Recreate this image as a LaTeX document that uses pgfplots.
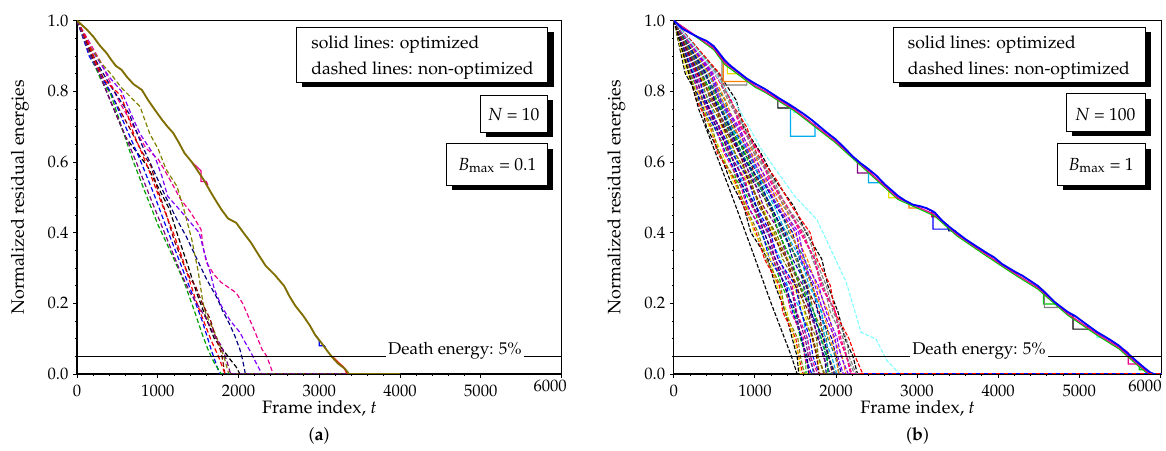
\documentclass[border=0pt]{standalone}
\usepackage[T1]{fontenc}
\usepackage{mathpazo}
\usepackage{pgfplots}
\pgfplotsset{compat=1.18}
\usepackage{pgfplotstable}

\definecolor{ogreen}{RGB}{0,200,0}
\definecolor{oyellow}{RGB}{235,225,0}
\definecolor{dyellow}{RGB}{128,128,0}
\definecolor{onavy}{RGB}{0,0,128}
\definecolor{opurple}{RGB}{128,0,128}
\definecolor{owine}{RGB}{128,0,0}
\definecolor{oolive}{RGB}{128,110,0}
\definecolor{dcyan}{RGB}{0,128,128}
\definecolor{royal}{RGB}{0,0,160}
\definecolor{oorange}{RGB}{255,128,0}
\definecolor{oviolet}{RGB}{128,0,255}
\definecolor{opink}{RGB}{255,0,128}
\definecolor{ogray}{RGB}{128,128,128}
\definecolor{lcyan}{RGB}{128,255,255}

\pgfplotsset{
  energyaxis/.style={
    scale only axis, height=265.7pt, anchor=south west,
    xmin=0, ymin=0, ymax=1,
    xtick={0,1000,...,5000}, extra x ticks={6000},
    ytick={0,0.2,...,1.0},
    minor x tick num=4, minor y tick num=3,
    tick align=outside, xtick pos=bottom, ytick pos=left,
    major tick length=3pt, minor tick length=1.6pt,
    xticklabel style={/pgf/number format/1000 sep={},yshift=-1.5pt},
    yticklabel style={/pgf/number format/.cd,fixed,fixed zerofill,precision=1},
    tick label style={font=\fontsize{12.5}{15}\selectfont},
    xlabel={Frame index, \textit{t}},
    ylabel={Normalized residual energies},
    every axis x label/.style={at={(axis description cs:0.5,-0.099)},anchor=center,
      font=\fontsize{13.5}{16}\selectfont},
    every axis y label/.style={at={(axis description cs:-0.118,0.5)},rotate=90,anchor=center,
      font=\fontsize{13.5}{16}\selectfont},
    axis line style={line width=0.9pt},
    every tick/.style={black,line width=0.7pt},
  },
  ldash/.style={no marks, line width=0.9pt, dash pattern=on 3.5pt off 2pt},
  rdash/.style={no marks, line width=0.85pt, dash pattern=on 3pt off 1.3pt},
  rsolid/.style={no marks, line width=0.9pt},
}

% right panel, non-optimized runs: frame index at fixed energy levels
\pgfplotstableread{
e d1 d2 d3 d4 d5 d6 d7 d8 d9 d10 d11 d12 d13 d14 d15 d16 d17 d18 d19 d20 d21 d22 d23 d24 d25 d26 d27 d28 d29 d30 d31 d32 d33 d34 d35 d36
1 0 0 0 0 0 0 0 0 0 0 0 0 0 0 0 0 0 0 0 0 0 0 0 0 0 0 0 0 0 0 0 0 0 0 0 0
0.85 140 185 200 240 250 280 300 310 345 355 385 400 425 440 470 480 510 520 555 565 330 310 420 220 160 200 230 265 290 330 370 395 430 460 500 540
0.775 330 278 365 310 435 395 503 420 503 448 568 530 630 555 638 580 703 665 768 690 525 375 595 350 355 295 395 353 485 465 570 503 600 560 705 685
0.7 400 450 490 500 540 550 585 610 620 660 670 700 715 750 765 800 815 850 860 895 680 560 690 520 430 470 520 560 600 640 650 690 730 780 830 870
0.625 565 538 670 640 748 675 758 713 830 800 905 828 915 863 988 955 1063 990 1073 1020 880 720 935 620 595 555 700 690 815 755 845 810 950 925 1060 1010
0.55 690 745 770 820 835 880 890 935 960 980 1020 1035 1075 1095 1130 1150 1190 1210 1245 1265 1000 920 1060 800 720 760 800 860 910 950 1000 1050 1090 1110 1170 1230
0.475 860 860 983 915 1013 960 1095 1068 1185 1105 1203 1155 1288 1260 1370 1305 1395 1348 1478 1453 1205 1015 1240 900 895 880 1015 975 1075 1045 1205 1190 1325 1270 1395 1380
0.4 950 1015 1075 1090 1150 1160 1220 1240 1290 1310 1345 1395 1420 1465 1490 1540 1560 1605 1630 1680 1290 1190 1380 1120 990 1040 1110 1170 1200 1260 1330 1370 1440 1510 1580 1650
0.325 1160 1118 1223 1180 1315 1290 1408 1343 1438 1393 1525 1503 1618 1550 1645 1603 1735 1708 1825 1765 1445 1285 1565 1225 1190 1140 1255 1245 1390 1390 1525 1465 1590 1565 1735 1745
0.25 1250 1300 1330 1390 1400 1460 1475 1525 1545 1595 1625 1650 1695 1715 1760 1785 1830 1850 1900 1930 1560 1500 1670 1370 1270 1320 1360 1440 1500 1560 1600 1640 1700 1740 1810 1880
0.175 1375 1343 1485 1465 1580 1515 1608 1563 1700 1673 1793 1725 1818 1773 1905 1880 1995 1930 2025 1985 1730 1570 1825 1445 1395 1365 1505 1510 1665 1620 1725 1685 1850 1845 1995 1965
0.1 1460 1505 1560 1580 1640 1650 1700 1720 1775 1790 1840 1880 1900 1950 1970 2015 2040 2090 2110 2160 1820 1680 1860 1600 1480 1530 1570 1620 1710 1760 1810 1850 1920 1990 2060 2130
0.05 1520 1538 1625 1620 1690 1683 1770 1775 1858 1840 1908 1908 1990 2000 2075 2063 2128 2130 2208 2235 1890 1715 1945 1610 1540 1560 1645 1660 1760 1780 1880 1905 2005 2020 2130 2160
0 1540 1590 1630 1700 1720 1775 1800 1850 1880 1930 1955 1995 2040 2070 2120 2150 2195 2230 2265 2330 1900 1790 2010 1680 1560 1610 1660 1740 1790 1860 1910 1980 2030 2090 2180 2250
0 6100 6100 6100 6100 6100 6100 6100 6100 6100 6100 6100 6100 6100 6100 6100 6100 6100 6100 6100 6100 6100 6100 6100 6100 6100 6100 6100 6100 6100 6100 6100 6100 6100 6100 6100 6100
}\dashR

\begin{document}
\begin{tikzpicture}
\begin{scope}[x=0.75pt,y=0.75pt]
\path[use as bounding box] (0,0) rectangle (1166,452);
\end{scope}

% ---------------- (a) N = 10 ----------------
\begin{axis}[energyaxis, at={(57.98pt,57.75pt)}, width=364.3pt, xmax=6000,
  extra x tick style={tick label style={anchor=north east,xshift=7.5pt,yshift=3.5pt}}]
\addplot[ldash,magenta] coordinates {(0,1)(150,0.94)(300,0.88)(500,0.78)(700,0.70)(850,0.64)(1008,0.607)(1150,0.55)(1283,0.494)(1400,0.46)(1535,0.409)(1560,0.36)(1603,0.315)(1700,0.28)(1786,0.259)(1970,0.23)(2050,0.2)(2153,0.146)(2220,0.11)(2290,0.07)(2350,0.05)(2428,0)(4000,0)};
\addplot[ldash,oviolet] coordinates {(0,1)(200,0.91)(400,0.84)(550,0.8)(680,0.73)(779,0.68)(962,0.616)(1050,0.56)(1122,0.503)(1250,0.47)(1374,0.437)(1512,0.4)(1580,0.34)(1649,0.287)(1700,0.24)(1786,0.193)(1900,0.15)(2016,0.118)(2080,0.09)(2153,0.061)(2220,0.03)(2290,0)(4000,0)};
\addplot[ldash,onavy] coordinates {(0,1)(200,0.9)(400,0.82)(641,0.738)(800,0.65)(962,0.569)(1100,0.5)(1237,0.437)(1350,0.39)(1466,0.334)(1600,0.27)(1741,0.212)(1800,0.18)(1878,0.146)(1950,0.11)(2016,0.07)(2050,0.04)(2084,0)(4000,0)};
\addplot[ldash,black] coordinates {(0,1)(200,0.89)(400,0.78)(600,0.67)(870,0.588)(1000,0.53)(1145,0.466)(1250,0.39)(1374,0.306)(1480,0.23)(1603,0.155)(1700,0.1)(1832,0.061)(1900,0.04)(1970,0.02)(2016,0)(4000,0)};
\addplot[ldash,dyellow] coordinates {(0,1)(150,0.93)(300,0.88)(412,0.851)(550,0.81)(779,0.757)(900,0.68)(1008,0.635)(1100,0.58)(1237,0.531)(1330,0.46)(1420,0.381)(1500,0.29)(1560,0.2)(1603,0.165)(1700,0.12)(1786,0.07)(1830,0.04)(1878,0)(4000,0)};
\addplot[ldash,owine] coordinates {(0,1)(200,0.9)(400,0.8)(641,0.7)(800,0.63)(916,0.588)(1000,0.52)(1099,0.456)(1200,0.38)(1328,0.306)(1400,0.27)(1466,0.249)(1550,0.2)(1649,0.155)(1720,0.1)(1786,0.061)(1832,0)(4000,0)};
\addplot[ldash,red] coordinates {(0,1)(150,0.93)(300,0.84)(550,0.786)(700,0.68)(870,0.588)(1000,0.51)(1191,0.4)(1300,0.33)(1466,0.212)(1550,0.16)(1672,0.089)(1750,0.05)(1832,0)(4000,0)};
\addplot[ldash,blue] coordinates {(0,1)(150,0.9)(300,0.84)(412,0.8)(600,0.7)(779,0.607)(950,0.51)(1099,0.419)(1250,0.33)(1420,0.23)(1550,0.15)(1672,0.061)(1720,0.03)(1764,0)(4000,0)};
\addplot[ldash,ogreen!80!black] coordinates {(0,1)(150,0.91)(300,0.83)(412,0.795)(550,0.7)(687,0.607)(850,0.51)(1008,0.419)(1150,0.35)(1328,0.259)(1450,0.18)(1557,0.108)(1620,0.07)(1695,0.033)(1786,0)(4000,0)};
\addplot[ldash,opurple] coordinates {(0,1)(150,0.91)(275,0.851)(400,0.78)(550,0.7)(750,0.59)(916,0.494)(1100,0.39)(1283,0.287)(1400,0.23)(1603,0.155)(1700,0.11)(1786,0.08)(1850,0.04)(1901,0)(4000,0)};
% optimized runs (nearly identical)
\addplot[rsolid,magenta] coordinates {(1420,0.6)(1535,0.575)(1535,0.545)(1600,0.545)(1620,0.535)};
\addplot[rsolid,blue] coordinates {(2950,0.11)(3000,0.095)(3000,0.08)(3060,0.08)(3080,0.075)};
\addplot[rsolid,red] coordinates {(3161,0.05)(3230,0.034)(3300,0.02)(3345,0)};
\addplot[no marks,line width=1.4pt,oolive] coordinates {(0,1)(120,0.975)(200,0.955)(280,0.93)(366,0.908)(420,0.89)(480,0.872)(550,0.861)(620,0.84)(700,0.82)(802,0.804)(880,0.775)(962,0.748)(1050,0.72)(1120,0.7)(1191,0.682)(1260,0.655)(1328,0.626)(1420,0.6)(1512,0.569)(1580,0.545)(1649,0.517)(1720,0.49)(1786,0.466)(1870,0.44)(1970,0.428)(2060,0.4)(2153,0.372)(2240,0.34)(2336,0.306)(2450,0.28)(2565,0.249)(2630,0.22)(2703,0.193)(2800,0.165)(2886,0.136)(2950,0.11)(3023,0.089)(3100,0.065)(3161,0.047)(3230,0.03)(3321,0.014)(3367,0)(4000,0)};
\addplot[no marks,black,line width=0.9pt] coordinates {(0,0.05)(6100,0.05)};
\node[fill=white,inner sep=1.5pt,anchor=base,font=\fontsize{12.8}{15}\selectfont] at (axis cs:4680,0.05) [yshift=1.5pt] {Death energy: 5\%};
\end{axis}

% ---------------- (b) N = 100 ----------------
\begin{axis}[energyaxis, at={(506.78pt,57.75pt)}, width=366.4pt, xmax=6010,
  extra x tick style={tick label style={anchor=north east,xshift=4.5pt,yshift=3.5pt}},
  cycle list={{black},{red},{ogreen},{blue},{cyan},{magenta},{oyellow},{dyellow},{onavy},
    {opurple},{owine},{oolive},{dcyan},{royal},{oorange},{oviolet},{opink},{ogray}}]
\pgfplotsinvokeforeach{1,...,36}{
  \addplot+[rdash] table[x=d#1,y=e]{\dashR};
}
\addplot[rdash,lcyan] coordinates {(0,1)(445,0.87)(764,0.766)(1082,0.635)(1491,0.503)(1764,0.437)(2127,0.259)(2309,0.118)(2491,0.099)(2627,0.038)(2786,0)};
\addplot[rdash,black] coordinates {(0,1)(309,0.748)(673,0.531)(945,0.362)(1200,0.2)(1450,0.05)(1520,0)};
% optimized runs: the band with waiting steps
\addplot[rsolid,ogray] coordinates {(450,0.935)(594,0.89)(594,0.818)(900,0.818)(900,0.836)};
\addplot[rsolid,oorange] coordinates {(500,0.925)(610,0.886)(610,0.828)(893,0.828)(893,0.838)};
\addplot[rsolid,oyellow] coordinates {(620,0.886)(660,0.878)(660,0.85)(800,0.85)(800,0.856)};
\addplot[rsolid,black] coordinates {(1200,0.795)(1283,0.782)(1283,0.753)(1420,0.753)(1420,0.763)};
\addplot[rsolid,cyan] coordinates {(1300,0.78)(1439,0.762)(1439,0.673)(1741,0.673)(1741,0.712)(1800,0.7)};
\addplot[rsolid,lcyan] coordinates {(1460,0.758)(1480,0.74)(1560,0.74)(1560,0.745)};
\addplot[rsolid,opurple] coordinates {(2200,0.617)(2264,0.603)(2264,0.569)(2445,0.569)(2445,0.571)};
\addplot[rsolid,cyan] coordinates {(2350,0.59)(2400,0.58)(2400,0.541)(2580,0.541)};
\addplot[rsolid,oyellow] coordinates {(2600,0.537)(2650,0.527)(2650,0.499)(2760,0.499)(2760,0.505)};
\addplot[rsolid,oorange] coordinates {(2850,0.491)(2900,0.485)(2900,0.47)(3000,0.47)(3000,0.477)};
\addplot[rsolid,red] coordinates {(3100,0.47)(3180,0.462)(3180,0.445)(3260,0.445)(3260,0.447)};
\addplot[rsolid,blue] coordinates {(3150,0.466)(3195,0.461)(3195,0.41)(3377,0.41)(3377,0.423)};
\addplot[rsolid,onavy] coordinates {(3350,0.426)(3390,0.418)(3390,0.405)(3480,0.405)};
\addplot[rsolid,ogreen] coordinates {(4500,0.247)(4559,0.236)(4559,0.198)(4718,0.198)(4718,0.2)};
\addplot[rsolid,ogray] coordinates {(4500,0.247)(4570,0.233)(4570,0.188)(4730,0.188)(4730,0.195)};
\addplot[rsolid,black] coordinates {(4880,0.172)(4923,0.166)(4923,0.127)(5105,0.127)(5105,0.14)};
\addplot[rsolid,lcyan] coordinates {(5150,0.13)(5218,0.119)(5218,0.103)(5355,0.103)};
\addplot[rsolid,magenta] coordinates {(5550,0.07)(5605,0.06)(5605,0.028)(5718,0.028)(5718,0.034)};
\addplot[rsolid,ogreen] coordinates {(5700,0.037)(5740,0.03)(5740,0.012)(5830,0.012)};
\addplot[rsolid,ogreen] coordinates {(0,1)(491,0.918)(627,0.876)(1000,0.812)(1127,0.797)(1491,0.744)(1991,0.655)(2400,0.57)(2764,0.494)(3036,0.466)(3218,0.447)(3491,0.391)(3855,0.334)(4218,0.279)(4491,0.24)(4855,0.167)(5218,0.11)(5491,0.071)(5718,0.025)(5850,0)(6100,0)};
\addplot[rsolid,magenta] coordinates {(0,1)(491,0.922)(627,0.881)(1000,0.816)(1127,0.8)(1491,0.748)(1991,0.659)(2400,0.574)(2764,0.498)(3036,0.47)(3218,0.451)(3491,0.395)(3855,0.338)(4218,0.283)(4491,0.244)(4855,0.171)(5218,0.114)(5491,0.075)(5718,0.029)(5870,0)(6100,0)};
\addplot[no marks,line width=1.4pt,blue] coordinates {(0,1)(100,0.978)(200,0.965)(300,0.953)(400,0.943)(491,0.928)(560,0.908)(627,0.888)(700,0.872)(800,0.854)(900,0.836)(1000,0.822)(1127,0.806)(1200,0.795)(1300,0.78)(1400,0.766)(1491,0.753)(1600,0.736)(1700,0.719)(1800,0.7)(1900,0.681)(1991,0.665)(2100,0.641)(2200,0.617)(2300,0.597)(2400,0.58)(2500,0.561)(2600,0.537)(2700,0.517)(2764,0.504)(2850,0.491)(2950,0.479)(3036,0.475)(3120,0.469)(3218,0.457)(3300,0.436)(3400,0.416)(3491,0.4)(3600,0.381)(3700,0.366)(3855,0.343)(3950,0.33)(4050,0.311)(4218,0.288)(4300,0.278)(4400,0.263)(4491,0.249)(4600,0.226)(4700,0.203)(4855,0.176)(4950,0.164)(5050,0.147)(5218,0.119)(5300,0.108)(5400,0.094)(5491,0.08)(5600,0.058)(5718,0.034)(5800,0.018)(5877,0.004)(5920,0)(6100,0)};
\addplot[no marks,line width=0.9pt,blue] coordinates {(2300,0)(6100,0)};
\addplot[no marks,line width=0.9pt,red,dash pattern=on 3pt off 3pt] coordinates {(2300,0)(6100,0)};
\addplot[no marks,black,line width=0.9pt] coordinates {(0,0.05)(6100,0.05)};
\node[fill=white,inner sep=1.5pt,anchor=base,font=\fontsize{12.8}{15}\selectfont] at (axis cs:3764,0.05) [yshift=1.5pt] {Death energy: 5\%};
\end{axis}

% ---------------- annotation boxes and captions ----------------
\begin{scope}[x=0.75pt,y=0.75pt,font=\fontsize{13.2}{15}\selectfont]
  % (a)
  \fill[black] (303,364.3) rectangle (555,419.7);
  \draw[fill=white,line width=0.5pt] (297.3,369.3) rectangle (549.3,424.7);
  \node[anchor=base west,inner sep=0pt] at (312,403) {solid lines: optimized};
  \node[anchor=base west,inner sep=0pt] at (312,377) {dashed lines: non-optimized};
  \fill[black] (487.4,314.7) rectangle (554.7,351.3);
  \draw[fill=white,line width=0.5pt] (481.7,319.7) rectangle (549,356.3);
  \node[anchor=base,inner sep=0pt] at (515.3,331) {\textit{N} = 10};
  \fill[black] (453.7,261.3) rectangle (554.7,303);
  \draw[fill=white,line width=0.5pt] (448,266.3) rectangle (549,308);
  \node[anchor=base,inner sep=0pt] at (498.5,281.3) {$B_{\mathrm{max}}$ = 0.1};
  \node[font=\fontsize{13.5}{16}\selectfont] at (320,15) {(\textbf{a})};
  % (b)
  \fill[black] (901.4,364.3) rectangle (1154,419.7);
  \draw[fill=white,line width=0.5pt] (895.7,369.3) rectangle (1148.3,424.7);
  \node[anchor=base west,inner sep=0pt] at (910,403) {solid lines: optimized};
  \node[anchor=base west,inner sep=0pt] at (910,377) {dashed lines: non-optimized};
  \fill[black] (1074.7,315.3) rectangle (1153.7,353);
  \draw[fill=white,line width=0.5pt] (1069,320.3) rectangle (1148,358);
  \node[anchor=base,inner sep=0pt] at (1108.5,331) {\textit{N} = 100};
  \fill[black] (1065.7,261.3) rectangle (1153.7,303);
  \draw[fill=white,line width=0.5pt] (1060,266.3) rectangle (1148,308);
  \node[anchor=base,inner sep=0pt] at (1104,281.3) {$B_{\mathrm{max}}$ = 1};
  \node[font=\fontsize{13.5}{16}\selectfont] at (920,15) {(\textbf{b})};
\end{scope}
\end{tikzpicture}
\end{document}
